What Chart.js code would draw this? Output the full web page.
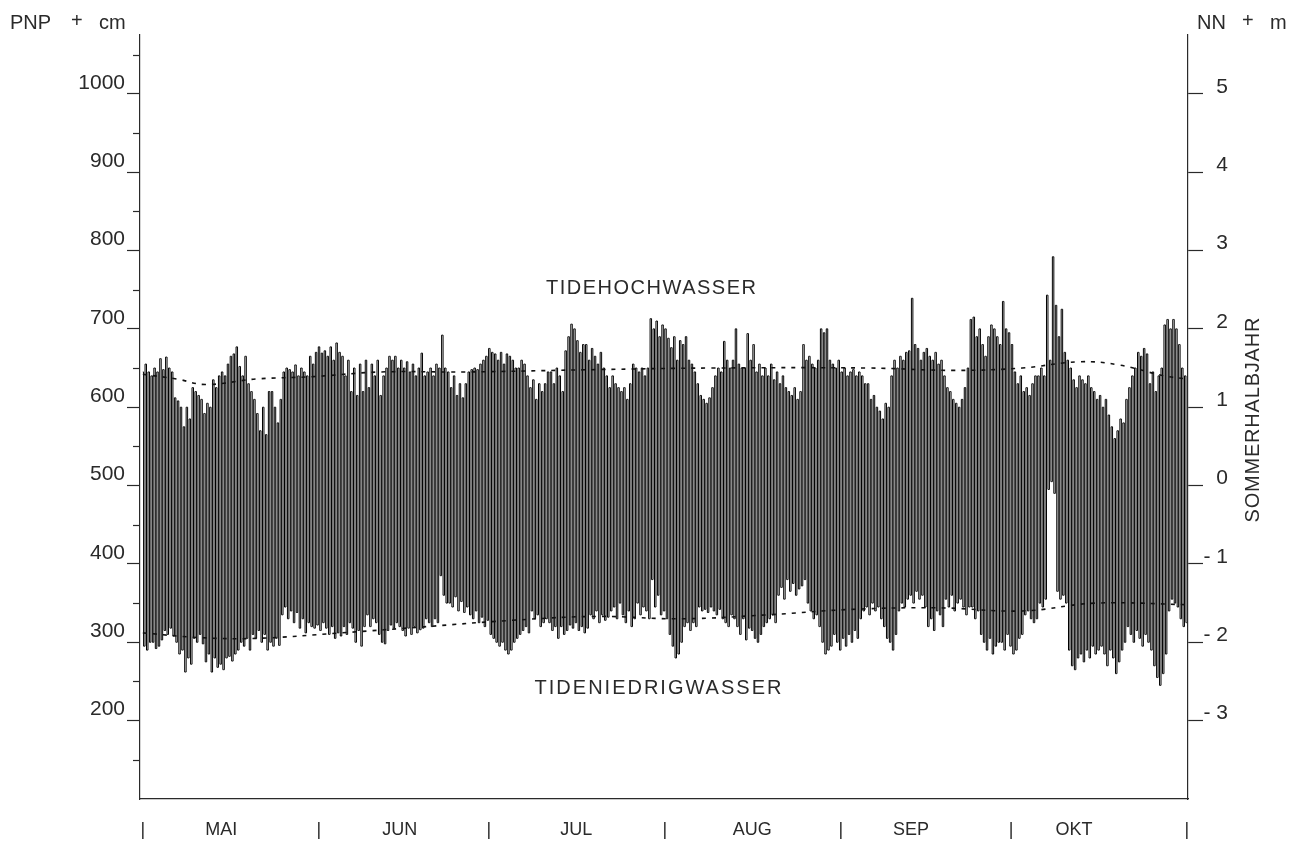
<!DOCTYPE html>
<html>
<head>
<meta charset="utf-8">
<script src="https://cdn.jsdelivr.net/npm/chart.js@4"></script>
<style>
  html, body { margin: 0; padding: 0; background: #fff; }
  canvas { display: block; }
</style>
</head>
<body>
<canvas id="pegel" width="1304" height="844"></canvas>
<script>
// Tidehochwasser (cm über PNP), je Tide, 1. Mai bis 31. Oktober
const hw = [
  645, 655, 645, 640, 650, 645, 662, 648, 664, 650,
  645, 612, 608, 600, 575, 600, 585, 625, 620, 615,
  610, 592, 605, 600, 635, 625, 640, 645, 640, 655,
  665, 668, 677, 652, 640, 665, 630, 620, 610, 592,
  570, 600, 565, 620, 620, 600, 580, 610, 645, 650,
  648, 645, 654, 640, 650, 645, 640, 665, 655, 670,
  677, 669, 672, 665, 677, 660, 682, 670, 665, 640,
  660, 620, 650, 615, 655, 620, 660, 625, 655, 640,
  660, 615, 640, 650, 665, 660, 665, 650, 660, 650,
  658, 645, 655, 640, 650, 669, 640, 645, 650, 640,
  655, 650, 692, 650, 645, 625, 640, 615, 630, 612,
  630, 645, 648, 650, 648, 655, 660, 665, 675, 670,
  668, 660, 670, 655, 668, 665, 660, 650, 650, 660,
  655, 640, 625, 635, 610, 630, 620, 630, 645, 645,
  630, 650, 640, 620, 672, 690, 706, 700, 685, 670,
  680, 680, 660, 675, 665, 655, 670, 650, 640, 625,
  640, 630, 625, 620, 625, 610, 630, 655, 650, 645,
  650, 640, 650, 713, 700, 710, 690, 705, 700, 688,
  676, 690, 660, 685, 680, 690, 660, 655, 645, 630,
  615, 610, 605, 612, 625, 640, 650, 645, 684, 660,
  650, 660, 700, 655, 650, 650, 694, 660, 680, 645,
  655, 640, 650, 640, 655, 635, 645, 630, 640, 625,
  620, 615, 625, 610, 620, 680, 660, 665, 655, 650,
  660, 700, 695, 700, 660, 655, 650, 660, 645, 650,
  640, 645, 648, 640, 645, 640, 630, 630, 610, 615,
  600, 595, 585, 605, 600, 640, 660, 650, 665, 660,
  670, 672, 739, 680, 675, 660, 670, 675, 665, 660,
  670, 655, 660, 640, 625, 620, 610, 605, 600, 610,
  625, 650, 712, 715, 690, 700, 680, 665, 690, 705,
  700, 690, 680, 735, 700, 695, 680, 645, 630, 640,
  620, 625, 615, 630, 640, 640, 650, 640, 743, 660,
  792, 730, 690, 725, 670, 660, 650, 635, 625, 640,
  635, 630, 640, 625, 620, 610, 615, 600, 610, 590,
  575, 560, 570, 585, 580, 610, 625, 640, 650, 670,
  665, 675, 668, 630, 645, 620, 640, 650, 705, 712,
  700, 712, 700, 680, 650, 640
];

// Tideniedrigwasser (cm über PNP), jeweils nach dem Hochwasser gleicher Nummer
const lw = [
  295, 290, 300, 300, 292, 295, 303, 315, 310, 318,
  308, 300, 285, 290, 262, 280, 272, 305, 300, 310,
  298, 275, 285, 262, 280, 268, 272, 265, 280, 282,
  276, 285, 290, 300, 295, 305, 290, 310, 305, 315,
  300, 310, 290, 300, 295, 305, 296, 335, 345, 330,
  340, 325, 338, 318, 330, 312, 325, 320, 318, 322,
  315, 325, 318, 310, 320, 305, 312, 308, 320, 310,
  325, 318, 300, 315, 295, 320, 335, 320, 330, 325,
  310, 300, 298, 315, 322, 318, 325, 320, 315, 308,
  318, 310, 320, 312, 316, 318, 330, 325, 320, 330,
  325, 385, 360, 350, 350, 345, 358, 340, 352, 338,
  345, 335, 330, 340, 325, 332, 320, 328, 310, 305,
  300, 295, 300, 290, 285, 290, 300, 305, 310, 315,
  320, 312, 340, 330, 335, 320, 325, 330, 325, 315,
  320, 305, 320, 310, 315, 322, 318, 325, 315, 320,
  312, 318, 335, 330, 340, 325, 335, 328, 332, 340,
  345, 330, 350, 335, 325, 340, 320, 330, 350, 335,
  345, 340, 330, 380, 345, 360, 335, 340, 330, 310,
  295, 280, 285, 300, 320, 325, 315, 325, 320, 345,
  340, 342, 338, 345, 340, 335, 342, 330, 325, 320,
  335, 330, 320, 310, 330, 303, 318, 315, 305, 300,
  310, 320, 325, 330, 335, 325, 360, 370, 355, 380,
  365, 375, 360, 368, 372, 380, 350, 340, 330, 335,
  320, 300, 285, 290, 295, 310, 300, 290, 305, 295,
  310, 300, 315, 305, 330, 340, 345, 335, 350, 340,
  345, 330, 320, 305, 300, 290, 310, 340, 350, 345,
  355, 360, 350, 365, 355, 360, 345, 320, 330, 315,
  340, 335, 320, 355, 345, 360, 340, 350, 355, 345,
  335, 345, 345, 330, 340, 310, 300, 290, 305, 285,
  295, 300, 300, 290, 310, 295, 285, 290, 305, 310,
  335, 340, 330, 325, 330, 350, 345, 355, 495, 505,
  490, 365, 355, 360, 350, 290, 270, 265, 280, 285,
  275, 290, 280, 295, 285, 290, 295, 285, 270, 290,
  280, 260, 275, 290, 300, 320, 310, 300, 315, 305,
  295, 310, 300, 290, 270, 255, 245, 260, 285, 340,
  355, 350, 345, 330, 320, 325
];

// mittlere Hoch- und Niedrigwasserlinie (gestrichelt)
const mhwDays = [0, 6, 11, 20, 30, 42, 57, 80, 100, 128, 143, 155, 165, 172, 180, 184];
const mhwCm   = [642, 636, 629, 636, 639, 645, 645, 648, 650, 650, 647, 650, 658, 654, 640, 636];
const mlwDays = [0, 10, 20, 35, 50, 65, 80, 95, 110, 125, 140, 155, 168, 184];
const mlwCm   = [312, 306, 305, 312, 320, 328, 333, 330, 335, 342, 344, 340, 350, 348];

// Achsen
const leftTicks = [200, 300, 400, 500, 600, 700, 800, 900, 1000];
const leftMinorTicks = [150, 250, 350, 450, 550, 650, 750, 850, 950, 1050];
const rightTicks = [-3, -2, -1, 0, 1, 2, 3, 4, 5];
const monthStartDays = [0, 31, 61, 92, 123, 153, 184];
const monthNames = ['MAI', 'JUN', 'JUL', 'AUG', 'SEP', 'OKT'];
const monthLabelDays = [13.8, 45.3, 76.4, 107.4, 135.4, 164.1];

const TIDE_DAYS = 12.42 / 24;
const INK = '#2a2a2a';
const FONT = 'Liberation Sans, Arial, sans-serif';

// Ganglinie: Hochwasser und Niedrigwasser abwechselnd
const tidePoints = [];
hw.forEach(function(h, k) {
    const t = k * TIDE_DAYS;
    tidePoints.push({ x: t, y: h });
    if (k < lw.length) tidePoints.push({ x: t + TIDE_DAYS / 2, y: lw[k] });
});

const xTickValues = monthStartDays.concat(monthLabelDays).sort(function(a, b) { return a - b; });

function spacedText(ctx, text, x, y, spacing, align) {
    ctx.save();
    ctx.letterSpacing = spacing + 'px';
    const w = ctx.measureText(text).width - spacing;
    let sx = x;
    if (align === 'center') sx = x - w / 2;
    ctx.textAlign = 'left';
    ctx.fillText(text, sx, y);
    ctx.restore();
}

const beschriftung = {
    id: 'beschriftung',
    afterDraw: function(chart) {
        const ctx = chart.ctx;
        const area = chart.chartArea;
        const y = chart.scales.y;

        // kleine Zwischenstriche links
        ctx.save();
        ctx.strokeStyle = INK;
        ctx.lineWidth = 1.2;
        leftMinorTicks.forEach(function(v) {
            const py = Math.round(y.getPixelForValue(v)) + 0.5;
            ctx.beginPath();
            ctx.moveTo(area.left - 7, py);
            ctx.lineTo(area.left, py);
            ctx.stroke();
        });
        ctx.restore();

        ctx.save();
        ctx.fillStyle = INK;
        ctx.textBaseline = 'alphabetic';
        ctx.font = '20px ' + FONT;
        ctx.fillText('PNP', 10, 29);
        ctx.fillText('+', 71, 27);
        ctx.fillText('cm', 99, 29);
        ctx.fillText('NN', 1197, 29);
        ctx.fillText('+', 1242, 27);
        ctx.fillText('m', 1270, 29);

        ctx.textBaseline = 'middle';
        spacedText(ctx, 'TIDEHOCHWASSER', 651, 288, 1.5, 'center');
        spacedText(ctx, 'TIDENIEDRIGWASSER', 658, 688, 2, 'center');

        ctx.translate(1253, 420);
        ctx.rotate(-Math.PI / 2);
        spacedText(ctx, 'SOMMERHALBJAHR', 0, 0, 0.8, 'center');
        ctx.restore();
    }
};

const ctx = document.getElementById('pegel').getContext('2d');
new Chart(ctx, {
    type: 'line',
    data: {
        datasets: [{
            label: 'MThw',
            data: mhwDays.map(function(d, i) { return { x: d, y: mhwCm[i] }; }),
            borderColor: '#111',
            borderWidth: 1.6,
            borderDash: [4, 6],
            tension: 0.4,
            pointRadius: 0,
            fill: false
        }, {
            label: 'MTnw',
            data: mlwDays.map(function(d, i) { return { x: d, y: mlwCm[i] }; }),
            borderColor: '#111',
            borderWidth: 1.6,
            borderDash: [4, 6],
            tension: 0.4,
            pointRadius: 0,
            fill: false
        }, {
            label: 'Wasserstand',
            data: tidePoints,
            borderColor: '#000',
            borderWidth: 1.0,
            stepped: 'middle',
            pointRadius: 0,
            fill: false
        }]
    },
    options: {
        responsive: false,
        animation: false,
        layout: { padding: { top: 35, right: 76, bottom: 0, left: 0 } },
        plugins: {
            legend: { display: false },
            tooltip: { enabled: false }
        },
        scales: {
            x: {
                type: 'linear',
                min: -0.5,
                max: 184.2,
                grid: { display: false, drawTicks: false },
                border: { display: true, color: INK, width: 1.2 },
                afterBuildTicks: function(scale) {
                    scale.ticks = xTickValues.map(function(v) { return { value: v }; });
                },
                afterFit: function(scale) { scale.height = 45; },
                ticks: {
                    autoSkip: false,
                    maxRotation: 0,
                    padding: 20,
                    color: INK,
                    font: { family: FONT, size: 18 },
                    callback: function(value) {
                        const m = monthLabelDays.indexOf(value);
                        if (m >= 0) return monthNames[m];
                        return '|';
                    }
                }
            },
            y: {
                position: 'left',
                min: 100,
                max: 1075,
                afterBuildTicks: function(scale) {
                    scale.ticks = leftTicks.map(function(v) { return { value: v }; });
                },
                afterFit: function(scale) { scale.width = 140; },
                grid: { drawOnChartArea: false, tickLength: 13, tickColor: INK, tickWidth: 1.2 },
                border: { display: true, color: INK, width: 1.2 },
                ticks: {
                    padding: 2,
                    labelOffset: -11,
                    color: INK,
                    font: { family: FONT, size: 21 },
                    callback: function(value) { return String(value); }
                }
            },
            y2: {
                position: 'right',
                min: -4,
                max: 5.75,
                afterBuildTicks: function(scale) {
                    scale.ticks = rightTicks.map(function(v) { return { value: v }; });
                },
                afterFit: function(scale) { scale.width = 40; },
                grid: { drawOnChartArea: false, tickLength: 15, tickColor: INK, tickWidth: 1.2 },
                border: { display: true, color: INK, width: 1.2 },
                ticks: {
                    crossAlign: 'far',
                    labelOffset: -7,
                    color: INK,
                    font: { family: FONT, size: 21 },
                    callback: function(value) {
                        return value < 0 ? '- ' + (-value) : String(value);
                    }
                }
            }
        }
    },
    plugins: [beschriftung]
});
</script>
</body>
</html>
